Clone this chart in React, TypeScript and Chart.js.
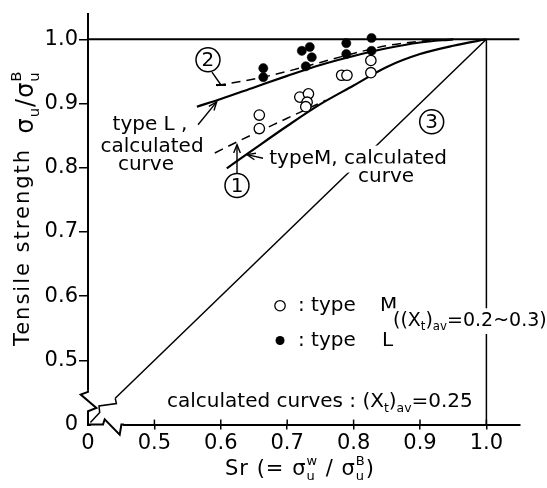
import React, { useEffect, useRef } from "react";
import { Chart, registerables } from "chart.js";
Chart.register(...registerables);

const FONT = '"DejaVu Sans", sans-serif';

// axis ticks (0.4 on the broken axes stands for the origin "0")
const xTicks = [0.4, 0.5, 0.6, 0.7, 0.8, 0.9, 1.0];
const xTickLabels = ["0", "0.5", "0.6", "0.7", "0.8", "0.9", "1.0"];
const yTicks = [0.4, 0.5, 0.6, 0.7, 0.8, 0.9, 1.0];
const yTickLabels = ["0", "0.5", "0.6", "0.7", "0.8", "0.9", "1.0"];

// measured points
const typeLX = [0.664, 0.664, 0.722, 0.734, 0.737, 0.728, 0.789, 0.789, 0.827, 0.827];
const typeLY = [0.955, 0.941, 0.982, 0.988, 0.972, 0.958, 0.994, 0.977, 1.002, 0.982];
const typeMX = [0.658, 0.658, 0.719, 0.732, 0.73, 0.728, 0.782, 0.79, 0.826, 0.826];
const typeMY = [0.882, 0.861, 0.91, 0.915, 0.902, 0.895, 0.944, 0.944, 0.967, 0.948];

// calculated curves
const calcLX = [0.564, 0.6, 0.65, 0.7, 0.75, 0.8, 0.85, 0.9, 0.95];
const calcLY = [0.895, 0.907, 0.925, 0.943, 0.96, 0.974, 0.986, 0.995, 1.0];
const curve2X = [0.594, 0.65, 0.7, 0.75, 0.8, 0.85, 0.9, 0.95];
const curve2Y = [0.928, 0.938, 0.95, 0.964, 0.978, 0.99, 0.997, 1.0];
const calcMX = [0.609, 0.65, 0.7, 0.75, 0.8, 0.85, 0.9, 0.95, 1.0];
const calcMY = [0.799, 0.829, 0.865, 0.899, 0.928, 0.957, 0.977, 0.99, 1.0];
const curve1X = [0.591, 0.63, 0.7, 0.758];
const curve1Y = [0.823, 0.843, 0.877, 0.905];
const line3X = [0.441, 1.0];
const line3Y = [0.441, 1.0];
const topLineX = [0.4, 1.05];
const topLineY = [1.0, 1.0];
const rightLineX = [1.0, 1.0];
const rightLineY = [0.4, 1.0];

type Seg = { t: string; sub?: string; sup?: string };
type TextItem = { x: number; y: number; segs: Seg[]; align: "left" | "center"; size: number; bg?: boolean };

const textItems: TextItem[] = [
  { x: 0.4934, y: 0.8669, segs: [{ t: "type L ," }], align: "center", size: 20 },
  { x: 0.4964, y: 0.8328, segs: [{ t: "calculated" }], align: "center", size: 20 },
  { x: 0.4873, y: 0.805, segs: [{ t: "curve" }], align: "center", size: 20 },
  { x: 0.673, y: 0.8142, segs: [{ t: "typeM, calculated" }], align: "left", size: 20, bg: true },
  { x: 0.8488, y: 0.7864, segs: [{ t: "curve" }], align: "center", size: 20, bg: true },
  { x: 0.7163, y: 0.5851, segs: [{ t: ": type" }], align: "left", size: 20 },
  { x: 0.8398, y: 0.5851, segs: [{ t: "M" }], align: "left", size: 20 },
  { x: 0.7163, y: 0.531, segs: [{ t: ": type" }], align: "left", size: 20 },
  { x: 0.8428, y: 0.531, segs: [{ t: "L" }], align: "left", size: 20 },
  { x: 0.8593, y: 0.5619, segs: [{ t: "((X", sub: "t" }, { t: ")", sub: "av" }, { t: "=0.2~0.3)" }], align: "left", size: 19, bg: true },
  { x: 0.519, y: 0.435, segs: [{ t: "calculated curves : (X", sub: "t" }, { t: ")", sub: "av" }, { t: "=0.25" }], align: "left", size: 20 },
];

const circledNums = [
  { x: 0.5807, y: 0.968, label: "2" },
  { x: 0.6244, y: 0.7724, label: "1" },
  { x: 0.9176, y: 0.8715, label: "3" },
];

const arrows = [
  { x1: 0.5867, y1: 0.9489, x2: 0.6003, y2: 0.9288, head: "bar" },
  { x1: 0.6244, y1: 0.7895, x2: 0.6244, y2: 0.8359, head: "arrow" },
  { x1: 0.5657, y1: 0.8669, x2: 0.5938, y2: 0.9025, head: "arrow" },
  { x1: 0.6636, y1: 0.8147, x2: 0.6395, y2: 0.8204, head: "arrow" },
];

const legendMarks = [
  { x: 0.6892, y: 0.5851, filled: false },
  { x: 0.6892, y: 0.531, filled: true },
];

function zip(xs: number[], ys: number[]) {
  return xs.map((x, i) => ({ x, y: ys[i] }));
}

function segWidths(ctx: CanvasRenderingContext2D, segs: Seg[], size: number) {
  const small = size * 0.62;
  return segs.map((s) => {
    ctx.font = `${size}px ${FONT}`;
    const wt = ctx.measureText(s.t).width;
    ctx.font = `${small}px ${FONT}`;
    const ws = Math.max(s.sub ? ctx.measureText(s.sub).width : 0, s.sup ? ctx.measureText(s.sup).width : 0);
    return { wt, ws };
  });
}

function drawRich(ctx: CanvasRenderingContext2D, segs: Seg[], x: number, y: number, size: number, align: "left" | "center", bg?: boolean) {
  const ws = segWidths(ctx, segs, size);
  const total = ws.reduce((a, w) => a + w.wt + w.ws, 0);
  let cx = align === "center" ? x - total / 2 : x;
  if (bg) {
    ctx.fillStyle = "#fff";
    ctx.fillRect(cx - 2, y - size * 0.65, total + 4, size * 1.35);
  }
  ctx.fillStyle = "#000";
  ctx.textBaseline = "middle";
  ctx.textAlign = "left";
  const small = size * 0.62;
  segs.forEach((s, i) => {
    ctx.font = `${size}px ${FONT}`;
    ctx.fillText(s.t, cx, y);
    cx += ws[i].wt;
    ctx.font = `${small}px ${FONT}`;
    if (s.sub) ctx.fillText(s.sub, cx, y + size * 0.33);
    if (s.sup) ctx.fillText(s.sup, cx, y - size * 0.4);
    cx += ws[i].ws;
  });
}

const decoPlugin = {
  id: "deco",
  afterDraw(chart: any) {
    const ctx: CanvasRenderingContext2D = chart.ctx;
    const xs = chart.scales.x;
    const ys = chart.scales.y;
    const px = (v: number) => xs.getPixelForValue(v);
    const py = (v: number) => ys.getPixelForValue(v);
    const ox = chart.chartArea.left;
    const oy = chart.chartArea.bottom;
    ctx.save();
    ctx.strokeStyle = "#000";
    ctx.lineCap = "butt";
    ctx.lineJoin = "miter";

    // inner halves of x tick marks
    ctx.lineWidth = 1.5;
    xTicks.forEach((v) => {
      if (v === xTicks[0]) return;
      ctx.beginPath();
      ctx.moveTo(px(v), oy - 5);
      ctx.lineTo(px(v), oy);
      ctx.stroke();
    });

    // axis breaks
    ctx.fillStyle = "#fff";
    ctx.fillRect(ox - 3, oy - 34, 6, 34);
    ctx.fillRect(ox + 3, oy - 3, 32, 6);
    ctx.lineWidth = 2;
    ctx.beginPath();
    ctx.moveTo(ox, oy - 34);
    ctx.lineTo(ox, oy - 32.7);
    ctx.lineTo(ox - 7.3, oy - 30);
    ctx.lineTo(ox + 8.4, oy - 16.7);
    ctx.lineTo(ox, oy - 13.4);
    ctx.lineTo(ox, oy);
    ctx.lineTo(ox + 15, oy);
    ctx.lineTo(ox + 16.7, oy - 5.3);
    ctx.lineTo(ox + 31.7, oy + 10);
    ctx.lineTo(ox + 33.4, oy);
    ctx.lineTo(ox + 36, oy);
    ctx.stroke();
    ctx.lineWidth = 1.5;
    const dx0 = px(line3X[0]);
    const dy0 = py(line3Y[0]);
    ctx.beginPath();
    ctx.moveTo(ox + 2.4, oy - 2);
    ctx.lineTo(ox + 11.7, oy - 12);
    ctx.lineTo(ox + 11, oy - 18.7);
    ctx.lineTo(ox + 28.4, oy - 21);
    ctx.lineTo(dx0, dy0);
    ctx.stroke();

    // arrows
    ctx.lineWidth = 1.4;
    arrows.forEach((a) => {
      const x1 = px(a.x1), y1 = py(a.y1), x2 = px(a.x2), y2 = py(a.y2);
      ctx.beginPath();
      ctx.moveTo(x1, y1);
      ctx.lineTo(x2, y2);
      ctx.stroke();
      const ang = Math.atan2(y2 - y1, x2 - x1);
      if (a.head === "arrow") {
        const L = 9, sp = 0.38;
        ctx.beginPath();
        ctx.moveTo(x2 - L * Math.cos(ang - sp), y2 - L * Math.sin(ang - sp));
        ctx.lineTo(x2, y2);
        ctx.lineTo(x2 - L * Math.cos(ang + sp), y2 - L * Math.sin(ang + sp));
        ctx.stroke();
      } else {
        ctx.lineWidth = 2;
        ctx.beginPath();
        ctx.moveTo(x2 - 5, y2);
        ctx.lineTo(x2 + 5, y2);
        ctx.stroke();
        ctx.lineWidth = 1.4;
      }
    });

    // circled numbers
    circledNums.forEach((c) => {
      const x = px(c.x), y = py(c.y);
      ctx.fillStyle = "#fff";
      ctx.beginPath();
      ctx.arc(x, y, 12, 0, Math.PI * 2);
      ctx.fill();
      ctx.lineWidth = 1.5;
      ctx.stroke();
      ctx.fillStyle = "#000";
      ctx.font = `20px ${FONT}`;
      ctx.textAlign = "center";
      ctx.textBaseline = "middle";
      ctx.fillText(c.label, x, y + 1);
    });

    // legend marks
    legendMarks.forEach((m) => {
      ctx.beginPath();
      ctx.arc(px(m.x), py(m.y), m.filled ? 4.5 : 5.2, 0, Math.PI * 2);
      if (m.filled) {
        ctx.fillStyle = "#000";
        ctx.fill();
      } else {
        ctx.lineWidth = 1.3;
        ctx.stroke();
      }
    });

    // texts
    textItems.forEach((t) => drawRich(ctx, t.segs, px(t.x), py(t.y), t.size, t.align, t.bg));

    // axis titles
    const anyCtx = ctx as any;
    anyCtx.letterSpacing = "1px";
    drawRich(ctx, [{ t: "Sr (= σ", sub: "u", sup: "w" }, { t: " / σ", sub: "u", sup: "B" }, { t: ")" }], 300, 470, 21, "center");
    anyCtx.letterSpacing = "2px";
    ctx.save();
    ctx.translate(24, 247);
    ctx.rotate(-Math.PI / 2);
    drawRich(ctx, [{ t: "Tensile strength" }], 0, 0, 21, "center");
    ctx.restore();
    anyCtx.letterSpacing = "1px";
    ctx.save();
    ctx.translate(27, 102);
    ctx.rotate(-Math.PI / 2);
    drawRich(ctx, [{ t: "σ", sub: "u" }, { t: "/σ", sub: "u", sup: "B" }], 0, 0, 24, "center");
    ctx.restore();
    anyCtx.letterSpacing = "0px";

    ctx.restore();
  },
};

export default function App() {
  const ref = useRef<HTMLCanvasElement>(null);
  useEffect(() => {
    if (!ref.current) return;
    const solid = { showLine: true, borderColor: "#000", pointRadius: 0, fill: false };
    const chart = new Chart(ref.current, {
      type: "scatter",
      data: {
        datasets: [
          { data: zip(typeLX, typeLY), pointRadius: 4.6, pointBackgroundColor: "#000", pointBorderColor: "#000", pointBorderWidth: 0.5 },
          { data: zip(typeMX, typeMY), pointRadius: 5.2, pointBackgroundColor: "#fff", pointBorderColor: "#000", pointBorderWidth: 1.3 },
          { ...solid, data: zip(calcLX, calcLY), borderWidth: 2.2, cubicInterpolationMode: "monotone" },
          { ...solid, data: zip(curve2X, curve2Y), borderWidth: 1.5, borderDash: [9, 6], cubicInterpolationMode: "monotone" },
          { ...solid, data: zip(calcMX, calcMY), borderWidth: 2.2, cubicInterpolationMode: "monotone" },
          { ...solid, data: zip(curve1X, curve1Y), borderWidth: 1.5, borderDash: [9, 6], cubicInterpolationMode: "monotone" },
          { ...solid, data: zip(line3X, line3Y), borderWidth: 1.5 },
          { ...solid, data: zip(topLineX, topLineY), borderWidth: 2 },
          { ...solid, data: zip(rightLineX, rightLineY), borderWidth: 1.5 },
        ] as any,
      },
      options: {
        animation: false,
        responsive: false,
        layout: { padding: { top: 11.2, right: 27.4, left: 0, bottom: 0 } },
        plugins: { legend: { display: false }, tooltip: { enabled: false } },
        scales: {
          x: {
            type: "linear",
            min: 0.4,
            max: 1.05,
            afterFit: (s: any) => { s.height = 63.4; },
            afterBuildTicks: (s: any) => { s.ticks = xTicks.map((v) => ({ value: v })); },
            ticks: {
              autoSkip: false,
              maxRotation: 0,
              padding: 1,
              color: "#000",
              font: { family: FONT, size: 21 },
              callback: (_v: any, i: number) => xTickLabels[i],
            },
            grid: {
              drawOnChartArea: false,
              drawTicks: true,
              tickLength: 5,
              lineWidth: 1.5,
              color: (c: any) => (c.tick && c.tick.value === xTicks[0] ? "rgba(0,0,0,0)" : "#000"),
            },
            border: { color: "#000", width: 2 },
          },
          y: {
            type: "linear",
            min: 0.4,
            max: 1.04,
            afterFit: (s: any) => { s.width = 88; },
            afterBuildTicks: (s: any) => { s.ticks = yTicks.map((v) => ({ value: v })); },
            ticks: {
              autoSkip: false,
              padding: 1,
              color: "#000",
              font: { family: FONT, size: 21 },
              callback: (_v: any, i: number) => yTickLabels[i],
            },
            grid: {
              drawOnChartArea: false,
              drawTicks: true,
              tickLength: 9,
              lineWidth: 1.5,
              color: (c: any) => (c.tick && c.tick.value === yTicks[0] ? "rgba(0,0,0,0)" : "#000"),
            },
            border: { color: "#000", width: 2 },
          },
        },
      },
      plugins: [decoPlugin],
    });
    return () => chart.destroy();
  }, []);
  return (
    <canvas
      ref={ref}
      width={547}
      height={488}
      style={{ position: "absolute", left: 0, top: 0, width: 547, height: 488, display: "block", background: "#fff" }}
    />
  );
}
